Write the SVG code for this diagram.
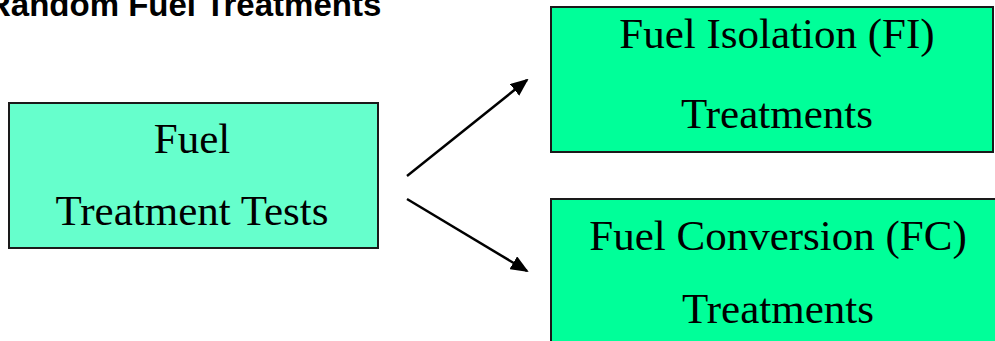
<svg xmlns="http://www.w3.org/2000/svg" width="995" height="341" viewBox="0 0 995 341">
  <style>
    .box { stroke: #1a1a1a; stroke-width: 2; }
    .tests { fill: #66FFCC; }
    .treat { fill: #00FF99; }
    .label { font-family: "Liberation Serif", "Times New Roman", serif; font-size: 43px; fill: #000; text-anchor: middle; }
    .title { font-family: "Liberation Sans", Arial, sans-serif; font-weight: bold; font-size: 33px; fill: #000; }
    .conn { stroke: #000; stroke-width: 2.5; fill: none; marker-end: url(#head); }
  </style>
  <defs>
    <marker id="head" viewBox="0 0 18 15" refX="16" refY="7.5" markerWidth="18" markerHeight="15" orient="auto" markerUnits="userSpaceOnUse">
      <path d="M0,0 L18,7.5 L0,15 Z" fill="#000"/>
    </marker>
  </defs>
  <rect width="995" height="341" fill="#fff"/>

  <text class="title" x="-13" y="16">Random Fuel Treatments</text>

  <g id="fuel-treatment-tests">
    <rect class="box tests" x="9" y="103" width="369" height="145"/>
    <text class="label" x="192" y="153">Fuel</text>
    <text class="label" x="192" y="225">Treatment Tests</text>
  </g>

  <g id="fuel-isolation">
    <rect class="box treat" x="551" y="7" width="442" height="145"/>
    <text class="label" x="777" y="48">Fuel Isolation (FI)</text>
    <text class="label" x="777" y="128">Treatments</text>
  </g>

  <g id="fuel-conversion">
    <rect class="box treat" x="551" y="199" width="460" height="160"/>
    <text class="label" x="778" y="250">Fuel Conversion (FC)</text>
    <text class="label" x="778" y="323">Treatments</text>
  </g>

  <g id="connectors">
    <line class="conn" x1="407" y1="176" x2="527" y2="80"/>
    <line class="conn" x1="407" y1="199" x2="527" y2="271"/>
  </g>
</svg>
